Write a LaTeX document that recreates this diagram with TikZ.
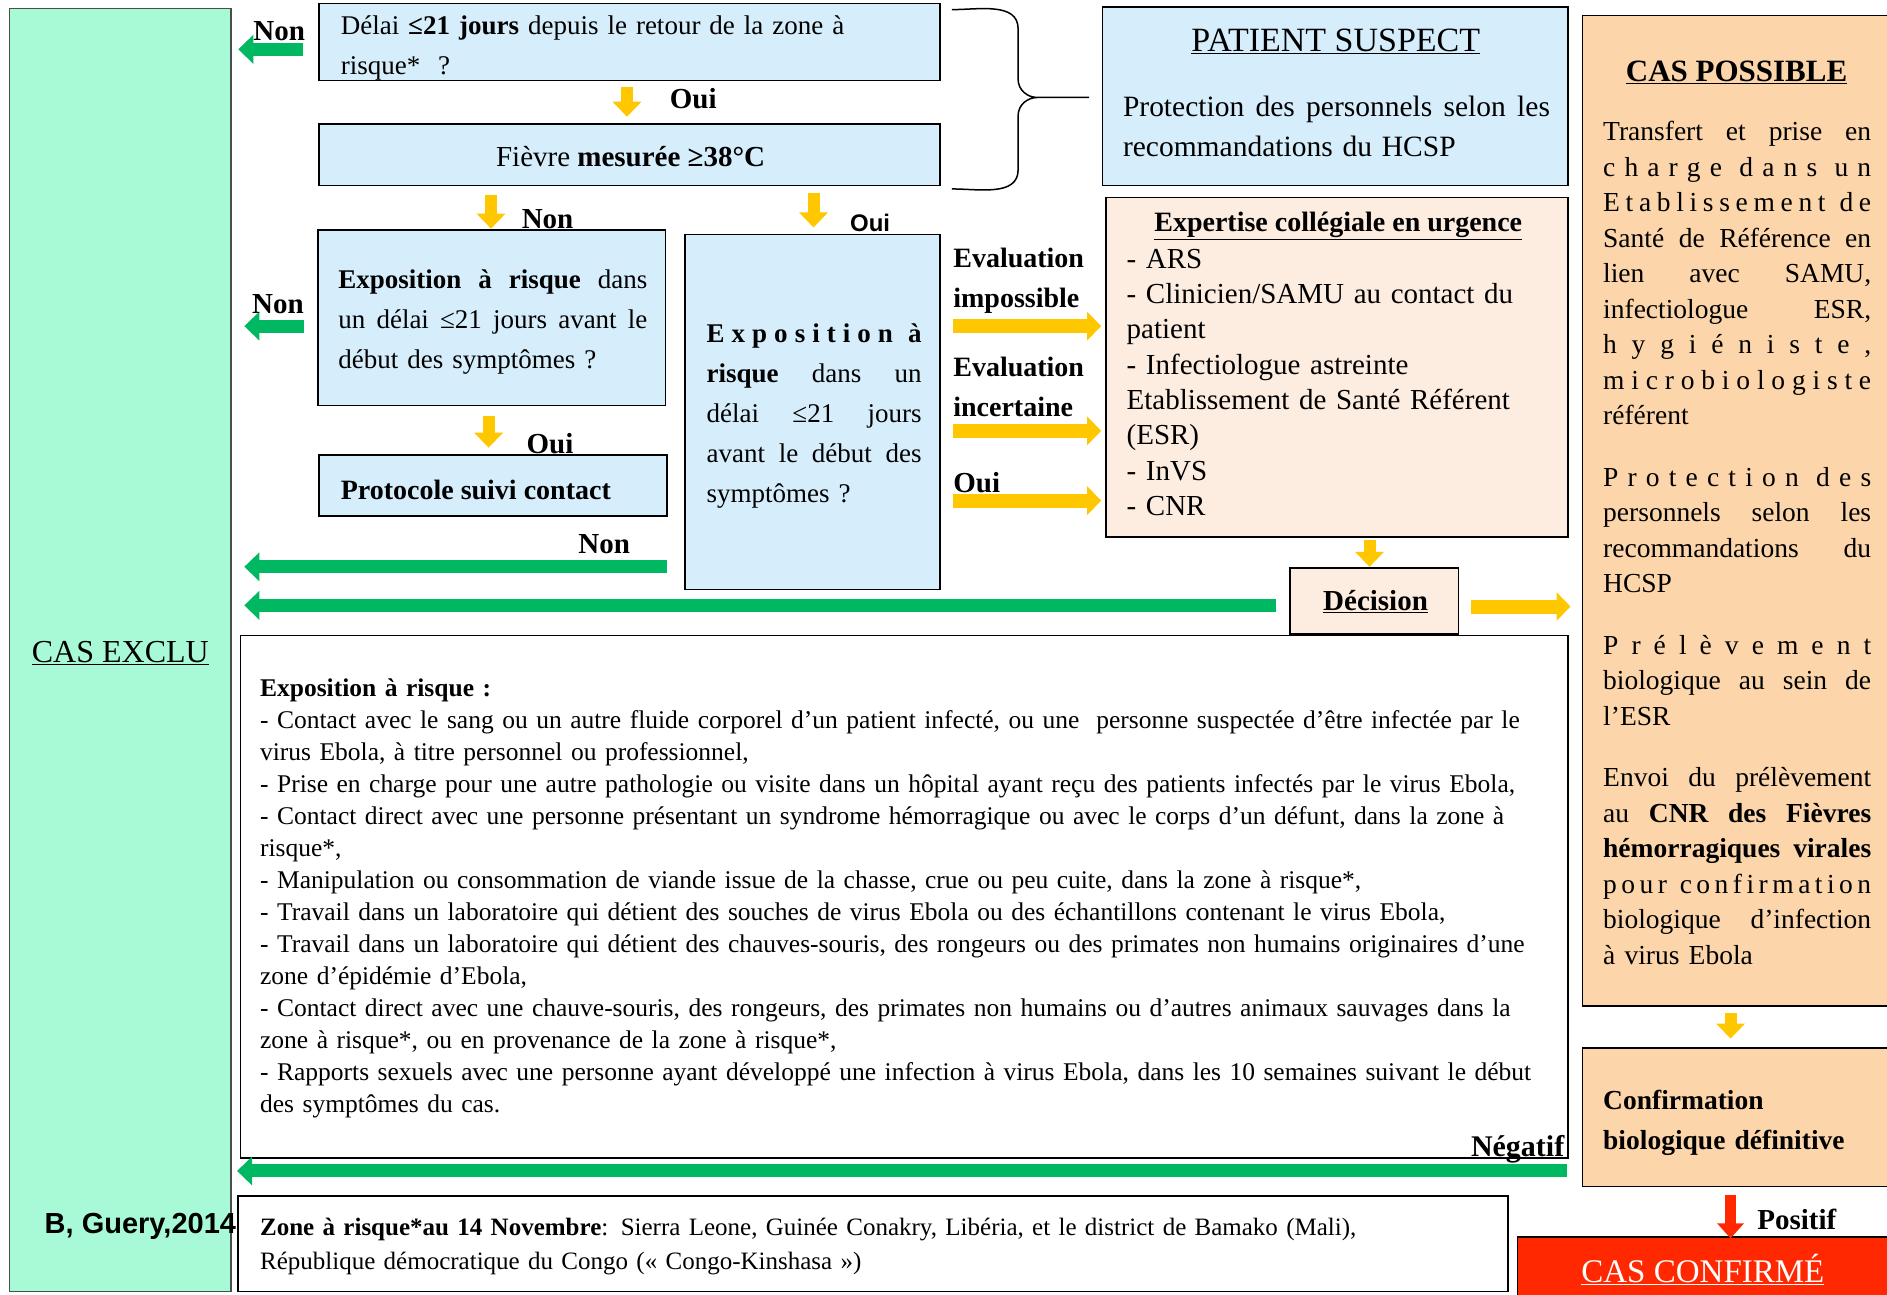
\documentclass[tikz,border=0pt]{standalone}
\usepackage{fontspec}
\setmainfont{Liberation Serif}
\newfontfamily\arialf{Liberation Sans}
\usetikzlibrary{arrows.meta,fit}
\definecolor{mint}{RGB}{168,250,214}
\definecolor{lblue}{RGB}{214,238,251}
\definecolor{lpeach}{RGB}{253,236,224}
\definecolor{peach}{RGB}{252,214,170}
\definecolor{redbox}{RGB}{255,40,0}
\definecolor{garr}{RGB}{0,184,98}
\definecolor{yarr}{RGB}{255,199,0}
\ExplSyntaxOn
\NewDocumentCommand\LS{m}{\tl_map_inline:nn{#1}{##1\skip_horizontal:n{0pt~plus~1fil}}\unskip}
\ExplSyntaxOff
\newcommand\WG{\hskip 0.3em plus 1fil\relax}
\newcommand\JL[1]{{\spaceskip=0pt\xspaceskip=0pt\makebox[\linewidth][s]{#1}}}
\newcommand\fs[2]{\fontsize{#1pt}{#2pt}\selectfont}
\begin{document}
\begin{tikzpicture}[x=1.2035pt,y=-1.2035pt,
  box/.style={draw=black,line width=1.6pt,inner sep=0pt},
  garrow/.style={draw=garr,line width=13pt,-{Triangle[width=28pt,length=15pt]}},
  yharrow/.style={draw=yarr,line width=14pt,-{Triangle[width=28pt,length=14pt]}},
  yvarrow/.style={draw=yarr,line width=12pt,-{Triangle[width=28pt,length=15pt]}},
  rarrow/.style={draw=redbox,line width=11pt,-{Triangle[width=26pt,length=15pt]}},
  lbl/.style={inner sep=0pt,font=\fs{29}{32}\bfseries},
  txt/.style={inner sep=0pt,anchor=base west,align=left}]
\clip (0,0) rectangle (1568,1076);
\fill[white] (0,0) rectangle (1568,1076);
% boxes
\node[box,fill=mint,draw=black!70,line width=1.2pt,fit={(8,7)(192,1073)}] (exclu) {};
\node[box,fill=lblue,fit={(265,3)(781,67)}] (b1) {};
\node[box,fill=lblue,fit={(265,103)(781,154)}] (b2) {};
\node[box,fill=lblue,fit={(916,6)(1303,154)}] (ps) {};
\node[box,fill=lblue,fit={(264,191)(553,337)}] (b3) {};
\node[box,fill=lblue,fit={(265,378)(554,429)}] (b4) {};
\node[box,fill=lblue,fit={(569,195)(781,490)}] (b5) {};
\node[box,fill=lpeach,fit={(919,164)(1303,446)}] (exp) {};
\node[box,fill=white,fit={(200,528)(1303,962)}] (def) {};
\node[box,fill=lpeach,fit={(1072,472)(1212,527)}] (dec) {};
\node[box,fill=white,fit={(198,994)(1253,1073)}] (zone) {};
\node[box,fill=peach,fit={(1315,13)(1585,836)}] (poss) {};
\node[box,fill=peach,fit={(1315,871)(1585,986)}] (conf) {};
\node[box,fill=redbox,fit={(1261,1028)(1585,1090)}] (cc) {};
% brace
\coordinate (brt) at (791,8); \coordinate (brtip) at (905,81); \coordinate (brb) at (791,157);
\draw[line width=1.5pt] (brt) to[out=0,in=90] (846,24) -- (846,66) to[out=-90,in=180] (862,81) -- (brtip)
  (brtip) -- (862,81) to[out=180,in=90] (846,96) -- (846,141) to[out=-90,in=0] (brb);
% arrow end points
\coordinate (a1s) at (252,41);   \coordinate (a1e) at (198,41);
\coordinate (a2s) at (521,72);   \coordinate (a2e) at (521,97);
\coordinate (a3s) at (408,162);  \coordinate (a3e) at (408,190);
\coordinate (a4s) at (676,160);  \coordinate (a4e) at (676,189);
\coordinate (a5s) at (253,271);  \coordinate (a5e) at (203,271);
\coordinate (a6s) at (406,346);  \coordinate (a6e) at (406,372);
\coordinate (a7s) at (554,471);  \coordinate (a7e) at (203,471);
\coordinate (a8s) at (792,271);  \coordinate (a8e) at (915,271);
\coordinate (a9s) at (792,358);  \coordinate (a9e) at (915,358);
\coordinate (a10s) at (792,416); \coordinate (a10e) at (915,416);
\coordinate (a11s) at (1138,449);\coordinate (a11e) at (1138,471);
\coordinate (a12s) at (1060,503);\coordinate (a12e) at (203,503);
\coordinate (a13s) at (1222,504);\coordinate (a13e) at (1305,504);
\coordinate (a14s) at (1302,973);\coordinate (a14e) at (197,973);
\coordinate (a15s) at (1438,842);\coordinate (a15e) at (1438,863);
\coordinate (a16s) at (1438,993);\coordinate (a16e) at (1438,1029);
\draw[garrow] (a1s) -- (a1e);
\draw[yvarrow] (a2s) -- (a2e);
\draw[yvarrow] (a3s) -- (a3e);
\draw[yvarrow] (a4s) -- (a4e);
\draw[garrow] (a5s) -- (a5e);
\draw[yvarrow] (a6s) -- (a6e);
\draw[garrow] (a7s) -- (a7e);
\draw[yharrow] (a8s) -- (a8e);
\draw[yharrow] (a9s) -- (a9e);
\draw[yharrow] (a10s) -- (a10e);
\draw[yvarrow] (a11s) -- (a11e);
\draw[garrow] (a12s) -- (a12e);
\draw[yharrow] (a13s) -- (a13e);
\draw[garrow] (a14s) -- (a14e);
\draw[yvarrow] (a15s) -- (a15e);
\draw[rarrow] (a16s) -- (a16e);
% texts
\node[font=\fs{32}{36}] (tex) at (100,543) {\underline{CAS EXCLU}};
\node[lbl] (n1) at (232,26) {Non};
\node[lbl] (o1) at (576,82) {Oui};
\node[txt,text width=560pt,font=\fs{27}{40}] (t1) at (283,29) {Délai \textbf{≤21 jours} depuis le retour de la zone à\\risque*~ ?};
\node[inner sep=0pt,font=\fs{29}{32}] (t2) at (524,130) {Fièvre \textbf{mesurée ≥38°C}};
\node[font=\fs{34}{38}] (tps) at (1110,34) {\underline{PATIENT SUSPECT}};
\node[txt,text width=427pt,font=\fs{29.5}{40}] (tpst) at (933,97) {\JL{Protection des personnels selon les}\\recommandations du HCSP};
\node[lbl] (n2) at (455,182) {Non};
\node[inner sep=0pt,font=\arialf\fs{24}{27}\bfseries] (o2) at (723,185) {Oui};
\node[txt,text width=309pt,font=\fs{27}{40}] (t3) at (281,240) {\JL{\textbf{Exposition à risque} dans}\\\JL{un délai ≤21 jours avant le}\\début des symptômes ?};
\node[lbl] (n3) at (231,253) {Non};
\node[lbl] (o3) at (457,369) {Oui};
\node[inner sep=0pt,anchor=west,font=\fs{28}{32}\bfseries] (t4) at (283,407) {Protocole suivi contact};
\node[lbl] (n4) at (502,452) {Non};
\node[txt,text width=215pt,font=\fs{27}{40}] (t5) at (587,285) {\JL{\textbf{\LS{Exposition}\WG\LS{à}}}\\\JL{\textbf{risque} dans un}\\\JL{délai ≤21 jours}\\\JL{avant le début des}\\symptômes ?};
\node[txt,text width=150pt,font=\fs{28}{40}\bfseries] (ev1) at (792,222) {Evaluation\\impossible};
\node[txt,text width=150pt,font=\fs{28}{40}\bfseries] (ev2) at (792,313) {Evaluation\\incertaine};
\node[inner sep=0pt,anchor=west,font=\fs{29}{32}\bfseries] (o4) at (792,401) {Oui};
\node[font=\fs{28}{32}\bfseries] (texp) at (1112,188) {\underline{Expertise collégiale en urgence}};
\node[txt,text width=440pt,font=\fs{29}{35.3}] (texpl) at (936,223) {- ARS\\- Clinicien/SAMU au contact du\\patient\\- Infectiologue astreinte\\Etablissement de Santé Référent\\(ESR)\\- InVS\\- CNR};
\node[font=\fs{29}{32}\bfseries] (tdec) at (1143,500) {\underline{Décision}};
\node[txt,text width=1320pt,font=\fs{25.5}{32}] (tdef) at (216,579) {\textbf{Exposition à risque :}\\
- Contact avec le sang ou un autre fluide corporel d’un patient infecté, ou une~ personne suspectée d’être infectée par le\\
virus Ebola, à titre personnel ou professionnel,\\
- Prise en charge pour une autre pathologie ou visite dans un hôpital ayant reçu des patients infectés par le virus Ebola,\\
- Contact direct avec une personne présentant un syndrome hémorragique ou avec le corps d’un défunt, dans la zone à\\
risque*,\\
- Manipulation ou consommation de viande issue de la chasse, crue ou peu cuite, dans la zone à risque*,\\
- Travail dans un laboratoire qui détient des souches de virus Ebola ou des échantillons contenant le virus Ebola,\\
- Travail dans un laboratoire qui détient des chauves-souris, des rongeurs ou des primates non humains originaires d’une\\
zone d’épidémie d’Ebola,\\
- Contact direct avec une chauve-souris, des rongeurs, des primates non humains ou d’autres animaux sauvages dans la\\
zone à risque*, ou en provenance de la zone à risque*,\\
- Rapports sexuels avec une personne ayant développé une infection à virus Ebola, dans les 10 semaines suivant le début\\
des symptômes du cas.};
\node[inner sep=0pt,anchor=east,font=\fs{30}{33}\bfseries] (tneg) at (1300,955) {Négatif};
\node[txt,text width=1260pt,font=\fs{25}{34}] (tzone) at (216,1027) {\textbf{Zone à risque*au 14 Novembre}: Sierra Leone, Guinée Conakry, Libéria, et le district de Bamako (Mali),\\République démocratique du Congo («~Congo-Kinshasa~»)};
\node[inner sep=0pt,anchor=west,font=\arialf\fs{29}{32}\bfseries] (tgu) at (37,1019) {B, Guery,2014};
\node[font=\fs{31}{35}\bfseries] (tpo) at (1443,60) {\underline{CAS POSSIBLE}};
\node[txt,text width=268pt,font=\fs{27.5}{35.5}] (tpob) at (1332,117) {\JL{Transfert et prise en}\\
\JL{\LS{charge}\WG\LS{dans}\WG\LS{un}}\\
\JL{\LS{Etablissement}\WG\LS{de}}\\
\JL{Santé de Référence en}\\
\JL{lien avec SAMU,}\\
\JL{infectiologue ESR,}\\
\JL{\LS{hygiéniste,}}\\
\JL{\LS{microbiologiste}}\\
référent\\[26pt]
\JL{\LS{Protection}\WG\LS{des}}\\
\JL{personnels selon les}\\
\JL{recommandations du}\\
HCSP\\[26pt]
\JL{\LS{Prélèvement}}\\
\JL{biologique au sein de}\\
l’ESR\\[26pt]
\JL{Envoi du prélèvement}\\
\JL{au \textbf{CNR des Fièvres}}\\
\JL{\textbf{hémorragiques virales}}\\
\JL{\LS{pour}\WG\LS{confirmation}}\\
\JL{biologique d’infection}\\
à virus Ebola};
\node[txt,text width=260pt,font=\fs{27.5}{40}\bfseries] (tconf) at (1332,922) {Confirmation\\biologique définitive};
\node[lbl] (tpos) at (1493,1013) {Positif};
\node[font=\fs{33}{36},text=white] (tcc) at (1415,1055) {\underline{CAS CONFIRMÉ}};
\end{tikzpicture}
\end{document}
